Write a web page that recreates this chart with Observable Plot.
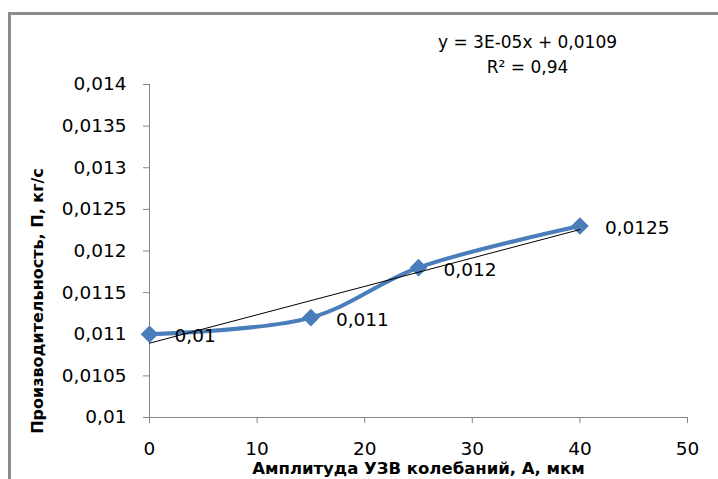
<!DOCTYPE html>
<html><head><meta charset="utf-8">
<script src="https://cdn.jsdelivr.net/npm/d3@7"></script>
<script src="https://cdn.jsdelivr.net/npm/@observablehq/plot@0.6"></script>
<style>
body{margin:0;overflow:hidden;background:#fff;width:718px;height:479px;position:relative}
#frame{position:absolute;left:8px;top:12px;width:800px;height:600px;border:3px solid #8c8c8c;}
#chart{position:absolute;left:0;top:0}
</style></head><body><div id="frame"></div><div id="chart"></div>
<script>
const amplitude = [0, 15, 25, 40];
const productivity = [0.011, 0.0112, 0.0118, 0.0123];
const pointLabels = ["0,01", "0,011", "0,012", "0,0125"];
const xTicks = [0, 10, 20, 30, 40, 50];
const yTicks = [0.01, 0.0105, 0.011, 0.0115, 0.012, 0.0125, 0.013, 0.0135, 0.014];
const yTickLabels = ["0,01", "0,0105", "0,011", "0,0115", "0,012", "0,0125", "0,013", "0,0135", "0,014"];
const equation = "y = 3E-05x + 0,0109";
const rSquared = "R² = 0,94";
const xTitle = "Амплитуда УЗВ колебаний, А, мкм";
const yTitle = "Производительность, П, кг/с";

const data = amplitude.map((a, i) => ({a, p: productivity[i], label: pointLabels[i]}));
const blue = "#4A7EBB";
const gray = "#868686";

const chart = Plot.plot({
  width: 718, height: 479,
  marginLeft: 149, marginRight: 31, marginTop: 84, marginBottom: 62,
  style: {fontFamily: "DejaVu Sans", fontSize: "18.5px", background: "transparent", overflow: "visible"},
  x: {domain: [0, 50]},
  y: {domain: [0.01, 0.014]},
  marks: [
    Plot.axisX({ticks: xTicks, tickSize: 6, tickPadding: 18, stroke: gray, fill: "black", label: null, fontSize: 18.5, tickFormat: d => String(d)}),
    Plot.axisY({ticks: yTicks, tickSize: 6, tickPadding: 17, stroke: gray, fill: "black", label: null, fontSize: 18.5,
      tickFormat: d => yTickLabels[yTicks.findIndex(t => Math.abs(t - d) < 1e-9)]}),
    Plot.ruleY([0.01], {stroke: gray}),
    Plot.ruleX([0], {stroke: gray}),
    Plot.line(data, {x: "a", y: "p", curve: "catmull-rom", stroke: blue, strokeWidth: 4}),
    Plot.dot(data, {x: "a", y: "p", symbol: "diamond2", r: 7, fill: blue, stroke: blue}),
    Plot.linearRegressionY(data, {x: "a", y: "p", stroke: "black", strokeWidth: 1, ci: 0}),
    Plot.text(data, {x: "a", y: "p", text: "label", textAnchor: "start", dx: 25, dy: 2, fontSize: 18.5, fill: "black"}),
    Plot.text([equation], {frameAnchor: "top", textAnchor: "middle", dx: 109, dy: -42, lineAnchor: "middle", fontSize: 17, fill: "black"}),
    Plot.text([rSquared], {frameAnchor: "top", textAnchor: "middle", dx: 109, dy: -17, lineAnchor: "middle", fontSize: 17, fill: "black"}),
    Plot.text([xTitle], {frameAnchor: "bottom", textAnchor: "middle", dy: 51.5, lineAnchor: "middle", fontSize: 16.5, fontWeight: "bold", fill: "black"}),
    Plot.text([yTitle], {frameAnchor: "left", textAnchor: "middle", rotate: -90, dx: -112, dy: 50, lineAnchor: "middle", fontSize: 16, fontWeight: "bold", fill: "black"})
  ]
});
document.getElementById("chart").appendChild(chart);
</script></body></html>
